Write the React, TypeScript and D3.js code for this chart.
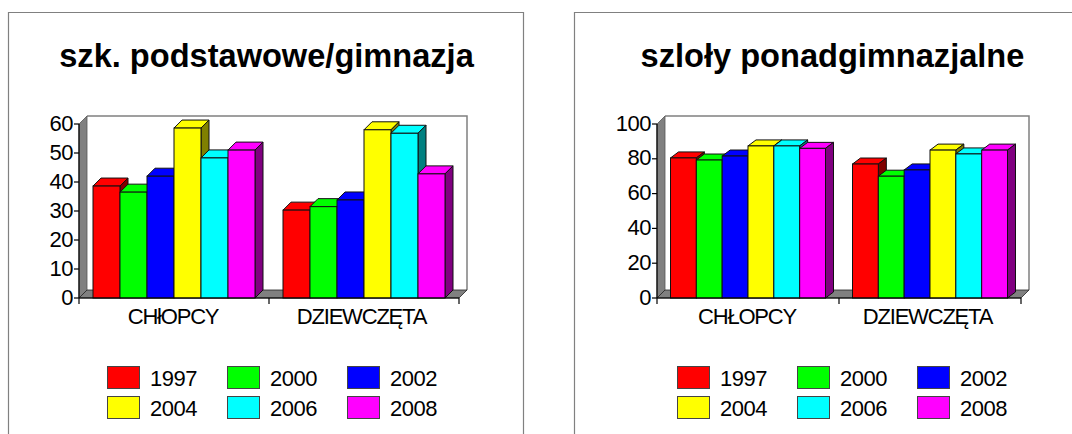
import React from "react";
import * as d3 from "d3";

const years = ["1997", "2000", "2002", "2004", "2006", "2008"];
const colors = ["#ff0000", "#00ff00", "#0000ff", "#ffff00", "#00ffff", "#ff00ff"];
const sideColors = ["#800000", "#008000", "#000080", "#808000", "#008080", "#800080"];

const leftTitle = "szk. podstawowe/gimnazja";
const leftCategories = ["CHłOPCY", "DZIEWCZĘTA"];
const leftTicks = [0, 10, 20, 30, 40, 50, 60];
const leftBoys = [38.6, 36.5, 42, 58.6, 48.3, 51];
const leftGirls = [30.3, 31.5, 33.8, 58, 56.8, 42.8];

const rightTitle = "szloły ponadgimnazjalne";
const rightCategories = ["CHŁOPCY", "DZIEWCZĘTA"];
const rightTicks = [0, 20, 40, 60, 80, 100];
const rightBoys = [80.5, 79.3, 81.6, 87.4, 87.4, 86];
const rightGirls = [77, 70, 73.6, 85, 82.8, 85];

const FONT = "'Liberation Sans', Arial, sans-serif";
const DEPTH = 8;
const Y0 = 298;
const YTOP = 124;

function Panel(p: {
  title: string; titleX: number; frameX: number; frameW: number; barDepthY: number;
  axisX: number; plotW: number; barInset: number; categories: string[];
  ticks: number[]; max: number; series: number[][]; legendX: number;
}) {
  const { axisX, plotW, barInset, ticks, categories, series, max, barDepthY } = p;
  const y = d3.scaleLinear().domain([0, max]).range([Y0, YTOP]);
  const x = d3.scaleBand<string>().domain(categories).range([axisX, axisX + plotW]);
  const inner = d3.scaleBand<string>().domain(years).range([barInset, x.bandwidth() - barInset]);
  const bw = inner.bandwidth();
  const gray = "#808080";
  return (
    <g>
      <path d={`M${p.frameX + 0.5},434V12.5H${p.frameX + p.frameW + 0.5}V434`} fill="#fff" stroke={gray} strokeWidth={1.2} />
      <text x={p.titleX} y={67} textAnchor="middle" fontFamily={FONT} fontWeight="bold" fontSize={32.6} fill="#000">{p.title}</text>
      {/* walls */}
      <path d={`M${axisX + DEPTH},${YTOP - DEPTH}H${axisX + plotW + DEPTH}V${Y0 - DEPTH}`} fill="none" stroke={gray} strokeWidth={1.5} />
      <polygon points={`${axisX},${YTOP} ${axisX + DEPTH},${YTOP - DEPTH} ${axisX + DEPTH},${Y0 - DEPTH} ${axisX},${Y0}`} fill={gray} stroke="#555" strokeWidth={0.8} />
      <polygon points={`${axisX},${Y0} ${axisX + DEPTH},${Y0 - DEPTH} ${axisX + plotW + DEPTH},${Y0 - DEPTH} ${axisX + plotW},${Y0}`} fill={gray} stroke="#222" strokeWidth={0.8} />
      {/* bars */}
      {categories.map((c, ci) => series[ci].map((v, i) => {
        const bx = (x(c) as number) + (inner(years[i]) as number);
        const top = y(v);
        return (
          <g key={c + i} stroke="#111" strokeWidth={1}>
            <polygon points={`${bx},${top} ${bx + DEPTH},${top - barDepthY} ${bx + bw + DEPTH},${top - barDepthY} ${bx + bw},${top}`} fill={colors[i]} />
            <polygon points={`${bx + bw},${top} ${bx + bw + DEPTH},${top - barDepthY} ${bx + bw + DEPTH},${Y0 - barDepthY} ${bx + bw},${Y0}`} fill={sideColors[i]} />
            <rect x={bx} y={top} width={bw} height={Y0 - top} fill={colors[i]} />
          </g>
        );
      }))}
      {/* axes */}
      <line x1={axisX} x2={axisX} y1={YTOP} y2={Y0 + 6} stroke="#000" strokeWidth={1.2} />
      <line x1={axisX} x2={axisX + plotW} y1={Y0} y2={Y0} stroke="#000" strokeWidth={1.2} />
      {ticks.map((t) => (
        <g key={t}>
          <line x1={axisX - 5} x2={axisX} y1={y(t)} y2={y(t)} stroke="#000" strokeWidth={1.2} />
          <text x={axisX - 6} y={y(t) + 6.5} textAnchor="end" fontFamily={FONT} fontSize={22} letterSpacing={-0.5} fill="#000">{t}</text>
        </g>
      ))}
      {categories.map((c, ci) => (
        <g key={c}>
          <line x1={(x(c) as number) + x.bandwidth()} x2={(x(c) as number) + x.bandwidth()} y1={Y0} y2={Y0 + 6} stroke="#000" strokeWidth={1.2} />
          <text x={(x(c) as number) + x.bandwidth() / 2 - 1 - ci * 1.5} y={324} textAnchor="middle" fontFamily={FONT} fontSize={22} letterSpacing={-1.2} fill="#000">{c}</text>
        </g>
      ))}
      {/* legend */}
      {years.map((yr, i) => {
        const lx = p.legendX + (i % 3) * 120;
        const ly = 366 + Math.floor(i / 3) * 30;
        return (
          <g key={yr}>
            <rect x={lx + 0.5} y={ly + 0.5} width={32} height={22} fill={colors[i]} stroke="#444" strokeWidth={1} />
            <text x={lx + 43} y={ly + 19.5} fontFamily={FONT} fontSize={22} letterSpacing={-0.5} fill="#000">{yr}</text>
          </g>
        );
      })}
    </g>
  );
}

export default function App() {
  return (
    <svg width={1072} height={434} viewBox="0 0 1072 434" style={{ position: "absolute", left: 0, top: 0, display: "block" }}>
      <rect width={1072} height={434} fill="#fff" />
      <Panel title={leftTitle} titleX={266.5} frameX={8} frameW={515} barDepthY={8} axisX={79} plotW={380} barInset={14}
        categories={leftCategories} ticks={leftTicks} max={60} series={[leftBoys, leftGirls]} legendX={107} />
      <Panel title={rightTitle} titleX={832.5} frameX={574} frameW={520} barDepthY={6} axisX={657} plotW={364} barInset={13.5}
        categories={rightCategories} ticks={rightTicks} max={100} series={[rightBoys, rightGirls]} legendX={677} />
    </svg>
  );
}
